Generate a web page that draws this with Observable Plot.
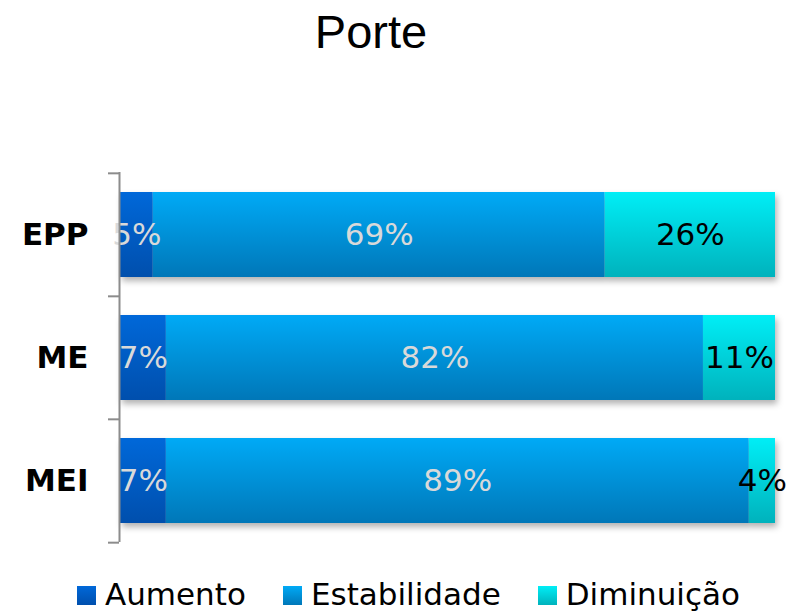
<!DOCTYPE html>
<html>
<head>
<meta charset="utf-8">
<script src="https://cdn.jsdelivr.net/npm/d3@7"></script>
<script src="https://cdn.jsdelivr.net/npm/@observablehq/plot@0.6"></script>
<style>
  html, body { margin: 0; padding: 0; background: #fff; }
  #wrap { position: relative; width: 789px; height: 613px; overflow: hidden; }
  #title { position: absolute; top: 8px; left: 0; width: 742px; text-align: center;
    font-family: "Liberation Sans", Arial, sans-serif; font-size: 47px; line-height: 47px; color: #000; }
  #chart { position: absolute; top: 0; left: 0; }
  #legend { position: absolute; top: 579px; left: 77px; display: flex; align-items: center;
    font-family: "DejaVu Sans", Verdana, sans-serif; font-size: 31px; line-height: 30px; color: #000; white-space: nowrap; }
  .item { display: flex; align-items: center; margin-right: 37px; }
  .sw { width: 19px; height: 19px; margin-right: 9px; margin-top: 3px; }
</style>
</head>
<body>
<div id="wrap">
  <div id="title">Porte</div>
  <div id="chart"></div>
  <div id="legend"></div>
</div>
<script>
const portes = ["EPP", "ME", "MEI"];
const tipos = ["Aumento", "Estabilidade", "Diminuição"];
const aumento = [5, 7, 7];
const estabilidade = [69, 82, 89];
const diminuicao = [26, 11, 4];

const gradTop = ["#0068d9", "#00aaf6", "#00eef6"];
const gradBottom = ["#004fad", "#0077b8", "#00b2bc"];
const gradIds = ["gAum", "gEst", "gDim"];

const rows = [];
portes.forEach((p, i) => {
  rows.push({porte: p, tipo: tipos[0], valor: aumento[i]});
  rows.push({porte: p, tipo: tipos[1], valor: estabilidade[i]});
  rows.push({porte: p, tipo: tipos[2], valor: diminuicao[i]});
});

const W = 789, H = 570, mTop = 172, mBottom = 28;
const step = (H - mTop - mBottom) / portes.length;

const chart = Plot.plot({
  width: W, height: H,
  marginLeft: 120, marginRight: 14, marginTop: mTop, marginBottom: mBottom,
  style: {fontFamily: "DejaVu Sans, Verdana, sans-serif", color: "#000", background: "transparent"},
  x: {domain: [0, 100], axis: null},
  y: {domain: portes, paddingInner: 0.31, paddingOuter: 0.155, label: null},
  color: {domain: tipos, range: gradIds.map(id => `url(#${id})`)},
  marks: [
    Plot.barX(rows, Plot.stackX({x: "valor", y: "porte", fill: "tipo",
      imageFilter: "drop-shadow(2px 4px 3px rgba(0,0,0,0.3))"})),
    Plot.textX(rows, Plot.stackX({x: "valor", y: "porte",
      text: d => d.tipo !== "Diminuição" ? d.valor + "%" : null,
      fill: "#d9d9d9", fontSize: 31})),
    Plot.textX(rows, Plot.stackX({x: "valor", y: "porte",
      text: d => d.tipo === "Diminuição" ? d.valor + "%" : null,
      fill: "#000", fontSize: 31})),
    Plot.ruleX([0], {stroke: "#8c8c8c", strokeWidth: 2, dx: -1}),
    Plot.ruleY(portes, {y: d => d, x1: 0, x2: 0, dx: -1, insetLeft: -11, dy: -step / 2, stroke: "#8c8c8c", strokeWidth: 2}),
    Plot.ruleY(portes.slice(-1), {y: d => d, x1: 0, x2: 0, dx: -1, insetLeft: -11, dy: step / 2, stroke: "#8c8c8c", strokeWidth: 2}),
    Plot.axisY({tickSize: 0, tickPadding: 32, fontSize: 31, fontWeight: "bold", fill: "#000", label: null})
  ]
});

const ns = "http://www.w3.org/2000/svg";
const defs = document.createElementNS(ns, "defs");
gradIds.forEach((id, i) => {
  const lg = document.createElementNS(ns, "linearGradient");
  lg.setAttribute("id", id);
  lg.setAttribute("x1", "0"); lg.setAttribute("y1", "0");
  lg.setAttribute("x2", "0"); lg.setAttribute("y2", "1");
  const s1 = document.createElementNS(ns, "stop");
  s1.setAttribute("offset", "0"); s1.setAttribute("stop-color", gradTop[i]);
  const s2 = document.createElementNS(ns, "stop");
  s2.setAttribute("offset", "1"); s2.setAttribute("stop-color", gradBottom[i]);
  lg.appendChild(s1); lg.appendChild(s2);
  defs.appendChild(lg);
});
chart.insertBefore(defs, chart.firstChild);
document.getElementById("chart").appendChild(chart);

const legend = document.getElementById("legend");
tipos.forEach((t, i) => {
  const item = document.createElement("div");
  item.className = "item";
  const sw = document.createElement("div");
  sw.className = "sw";
  sw.style.background = `linear-gradient(${gradTop[i]}, ${gradBottom[i]})`;
  const label = document.createElement("span");
  label.textContent = t;
  item.appendChild(sw); item.appendChild(label);
  legend.appendChild(item);
});
</script>
</body>
</html>
